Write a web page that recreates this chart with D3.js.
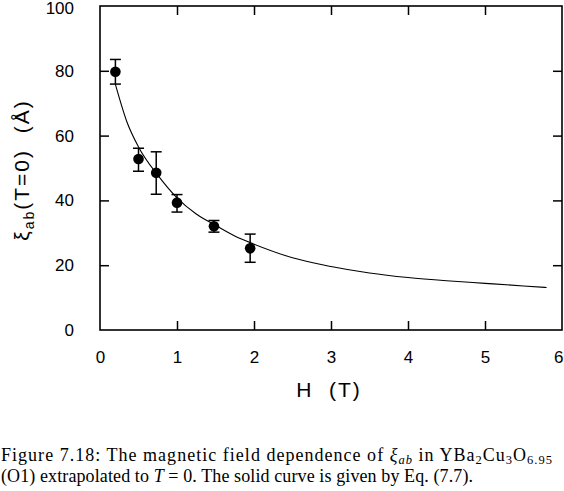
<!DOCTYPE html>
<html>
<head>
<meta charset="utf-8">
<script src="https://cdn.jsdelivr.net/npm/d3@7/dist/d3.min.js"></script>
<style>
  html, body { margin: 0; padding: 0; background: #fff; }
  svg { display: block; }
</style>
</head>
<body>
<svg id="chart" width="564" height="491"></svg>
<script>
// ---- data ----
const fieldH = [0.2, 0.5, 0.73, 1.0, 1.48, 1.95];
const xiAb = [79.7, 52.8, 48.5, 39.3, 32.0, 25.2];
const errHigh = [83.5, 56.1, 55.0, 41.8, 33.8, 29.6];
const errLow = [75.9, 49.0, 41.9, 36.4, 30.2, 20.9];

const curveH = [0.2, 0.35, 0.5, 0.75, 1.0, 1.25, 1.5, 1.75, 2.0, 2.5, 3.0, 3.5, 4.0, 4.5, 5.0, 5.5, 5.8];
const curveXi = [75.8, 64.2, 56.5, 47.8, 40.8, 35.8, 32.3, 29.0, 26.5, 22.3, 19.6, 17.6, 16.2, 15.2, 14.4, 13.6, 13.1];

const xTicks = [0, 1, 2, 3, 4, 5, 6];
const yTicks = [0, 20, 40, 60, 80, 100];

// ---- layout ----
const svg = d3.select("#chart");
const mLeft = 100, mRight = 562, mTop = 6, mBottom = 330;
const x = d3.scaleLinear().domain([0, 6]).range([mLeft, mRight]);
const y = d3.scaleLinear().domain([0, 100]).range([mBottom, mTop]);

const sans = "'Liberation Sans', Arial, Helvetica, sans-serif";
const fmt = d3.format("d");

// frame
svg.append("rect")
  .attr("x", mLeft).attr("y", mTop)
  .attr("width", mRight - mLeft).attr("height", mBottom - mTop)
  .attr("fill", "none").attr("stroke", "#000").attr("stroke-width", 1.6);

// axes (ticks inside)
const tickLen = 9;
const gB = svg.append("g").attr("transform", `translate(0,${mBottom})`)
  .call(d3.axisBottom(x).tickValues(xTicks).tickFormat(fmt).tickSizeInner(-tickLen).tickSizeOuter(0).tickPadding(tickLen + 12));
const gT = svg.append("g").attr("transform", `translate(0,${mTop})`)
  .call(d3.axisTop(x).tickValues(xTicks.slice(1, -1)).tickSizeInner(-tickLen).tickSizeOuter(0).tickFormat(""));
const gL = svg.append("g").attr("transform", `translate(${mLeft},0)`)
  .call(d3.axisLeft(y).tickValues(yTicks).tickFormat(fmt).tickSizeInner(-tickLen).tickSizeOuter(0).tickPadding(tickLen + 17));
const gR = svg.append("g").attr("transform", `translate(${mRight},0)`)
  .call(d3.axisRight(y).tickValues(yTicks.slice(1, -1)).tickSizeInner(-tickLen).tickSizeOuter(0).tickFormat(""));

[gB, gT, gL, gR].forEach(g => {
  g.select(".domain").remove();
  g.selectAll(".tick line").attr("stroke", "#000").attr("stroke-width", 1.5);
  g.selectAll(".tick text").attr("font-family", sans).attr("font-size", 17).attr("fill", "#000");
});
gB.selectAll(".tick").filter(d => d === 0 || d === 6).select("line").remove();
gL.selectAll(".tick").filter(d => d === 0 || d === 100).select("line").remove();
// keep edge labels inside the page
gB.selectAll(".tick").filter(d => d === 6).select("text").attr("text-anchor", "end").attr("dx", 1);
gL.selectAll(".tick").filter(d => d === 100).select("text").attr("dy", "0.42em");

// curve
const line = d3.line()
  .x((d, i) => x(curveH[i]))
  .y((d, i) => y(curveXi[i]))
  .curve(d3.curveMonotoneX);
svg.append("path")
  .datum(curveH)
  .attr("d", line)
  .attr("fill", "none")
  .attr("stroke", "#000")
  .attr("stroke-width", 1.1);

// error bars
const cap = 5.5;
const eb = svg.append("g").attr("stroke", "#000").attr("stroke-width", 1.5);
fieldH.forEach((h, i) => {
  eb.append("line").attr("x1", x(h)).attr("x2", x(h)).attr("y1", y(errLow[i])).attr("y2", y(errHigh[i]));
  eb.append("line").attr("x1", x(h) - cap).attr("x2", x(h) + cap).attr("y1", y(errLow[i])).attr("y2", y(errLow[i]));
  eb.append("line").attr("x1", x(h) - cap).attr("x2", x(h) + cap).attr("y1", y(errHigh[i])).attr("y2", y(errHigh[i]));
});

// points
svg.append("g").selectAll("circle")
  .data(fieldH)
  .join("circle")
  .attr("cx", d => x(d))
  .attr("cy", (d, i) => y(xiAb[i]))
  .attr("r", 5.3)
  .attr("fill", "#000");

// x title
svg.append("text")
  .attr("x", (mLeft + mRight) / 2 - 2)
  .attr("y", 397)
  .attr("text-anchor", "middle")
  .attr("font-family", sans)
  .attr("font-size", 21)
  .attr("letter-spacing", 2)
  .style("white-space", "pre")
  .text("H  (T)");

// y title
const yt = svg.append("text")
  .attr("transform", `translate(29,${(mTop + mBottom) / 2 + 2}) rotate(-90)`)
  .attr("text-anchor", "middle")
  .attr("font-family", sans)
  .attr("font-size", 21)
  .attr("letter-spacing", 2)
  .style("white-space", "pre");
yt.append("tspan").text("ξ");
yt.append("tspan").attr("font-size", 14).attr("dy", 5).text("ab");
yt.append("tspan").attr("dy", -5).text("(T=0)  (Å)");

// caption
const serif = "'Liberation Serif', 'Times New Roman', serif";
const c1 = svg.append("text")
  .attr("x", 1).attr("y", 461)
  .attr("font-family", serif).attr("font-size", 18)
  .attr("textLength", 551).attr("lengthAdjust", "spacing");
c1.append("tspan").text("Figure 7.18: The magnetic field dependence of ");
c1.append("tspan").attr("font-style", "italic").text("ξ");
c1.append("tspan").attr("font-style", "italic").attr("font-size", 12.5).attr("dy", 2.5).text("ab");
c1.append("tspan").attr("dy", -2.5).text(" in YBa");
c1.append("tspan").attr("font-size", 12.5).attr("dy", 2.5).text("2");
c1.append("tspan").attr("dy", -2.5).text("Cu");
c1.append("tspan").attr("font-size", 12.5).attr("dy", 2.5).text("3");
c1.append("tspan").attr("dy", -2.5).text("O");
c1.append("tspan").attr("font-size", 12.5).attr("dy", 2.5).text("6.95");

const c2 = svg.append("text")
  .attr("x", 1).attr("y", 482)
  .attr("font-family", serif).attr("font-size", 18)
  .attr("textLength", 472).attr("lengthAdjust", "spacing");
c2.append("tspan").text("(O1) extrapolated to ");
c2.append("tspan").attr("font-style", "italic").text("T");
c2.append("tspan").text(" = 0. The solid curve is given by Eq. (7.7).");
</script>
</body>
</html>
